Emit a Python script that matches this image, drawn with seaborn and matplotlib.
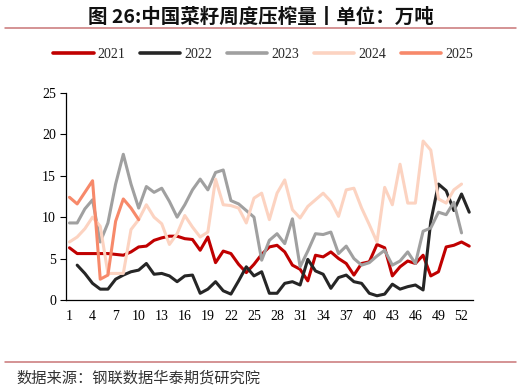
import numpy as np
import pandas as pd
import matplotlib
matplotlib.use('Agg')
import matplotlib.pyplot as plt
import seaborn as sns
from matplotlib.lines import Line2D

# ------------------------------------------------------------
# 数据：中国菜籽周度压榨量（万吨），按周 1-53
# ------------------------------------------------------------
WEEKS = list(range(1, 54))

Y2021 = [6.3, 5.6, 5.6, 5.6, 5.6, 5.6, 5.5, 5.4, 5.8, 6.4,
         6.5, 7.2, 7.5, 7.7, 7.7, 7.4, 7.3, 6.0, 7.6, 4.5,
         5.9, 5.6, 4.3, 3.3, 4.3, 5.5, 6.4, 6.6, 5.8, 4.2,
         3.7, 2.3, 5.4, 5.2, 5.8, 5.0, 4.4, 3.0, 4.4, 4.6,
         6.7, 6.3, 2.9, 4.0, 4.7, 4.4, 5.4, 2.9, 3.4, 6.4,
         6.6, 7.0, 6.5]

Y2022 = [np.nan, 4.2, 3.2, 2.0, 1.3, 1.3, 2.5, 3.0, 3.4, 3.6,
         4.4, 3.1, 3.2, 2.9, 2.2, 2.9, 3.0, 0.8, 1.3, 2.2,
         1.1, 0.7, 2.3, 4.0, 2.9, 3.4, 0.8, 0.8, 2.0, 2.2,
         1.8, 4.9, 3.5, 3.1, 1.4, 2.7, 3.0, 2.2, 2.0, 0.8,
         0.5, 0.7, 1.9, 1.3, 1.6, 1.8, 1.2, 9.5, 14.0, 13.2,
         10.8, 12.8, 10.6]

Y2023 = [9.3, 9.3, 11.0, 12.1, 7.0, 9.3, 14.0, 17.6, 14.0, 11.1,
         13.7, 13.0, 13.5, 11.9, 10.0, 11.5, 13.3, 14.6, 13.3, 15.4,
         15.7, 12.0, 11.6, 10.8, 10.0, 4.8, 7.2, 8.0, 6.8, 9.8,
         4.0, 5.9, 8.0, 7.9, 8.2, 5.6, 6.5, 5.0, 4.2, 4.5,
         5.3, 6.0, 4.2, 4.7, 5.8, 4.4, 8.3, 8.7, 10.6, 10.3,
         11.8, 8.1, np.nan]

Y2024 = [7.0, 7.6, 8.6, 10.0, 8.9, 3.2, 3.2, 3.2, 8.5, 9.7,
         11.5, 10.0, 9.2, 6.7, 8.0, 10.2, 8.8, 7.6, 8.2, 14.6,
         11.5, 11.4, 11.1, 9.3, 12.3, 12.9, 9.7, 12.9, 14.5, 10.9,
         9.9, 11.3, 12.1, 12.9, 11.9, 10.1, 13.3, 13.5, 11.1, 9.1,
         7.0, 13.6, 11.5, 16.4, 11.7, 11.7, 19.2, 18.1, 12.2, 11.7,
         13.3, 14.0, np.nan]

Y2025 = [12.4, 11.6, 13.0, 14.4, 2.5, 3.0, 9.5, 12.2, 11.1, 9.7]

YEARS = ['2021', '2022', '2023', '2024', '2025']
COLORS = {'2021': '#C00000', '2022': '#262626', '2023': '#A0A0A0',
          '2024': '#FCD3C1', '2025': '#F7896A'}

series = {'2021': Y2021, '2022': Y2022, '2023': Y2023, '2024': Y2024, '2025': Y2025}
frames = []
for yr in YEARS:
    vals = series[yr]
    frames.append(pd.DataFrame({'week': WEEKS[:len(vals)], 'value': vals, 'year': yr}))
df = pd.concat(frames, ignore_index=True).dropna()

# ------------------------------------------------------------
# 图
# ------------------------------------------------------------
sns.set_theme(style='white')
plt.rcParams['font.family'] = ['Liberation Serif', 'Noto Sans CJK SC']
plt.rcParams['axes.unicode_minus'] = False

fig = plt.figure(figsize=(5.21, 3.91), dpi=100)
ax = fig.add_axes([0.126, 0.233, 0.782, 0.529])

sns.lineplot(data=df, x='week', y='value', hue='year', hue_order=YEARS,
             palette=COLORS, linewidth=2.2, ax=ax, legend=False)

ax.set_xlim(0.5, 53.5)
ax.set_ylim(0, 25)
ax.set_xticks(list(range(1, 53, 3)))
ax.set_xticks([0.5 + 3 * i for i in range(18)], minor=True)
ax.tick_params(axis='x', which='major', length=0, pad=7, labelsize=10, colors='#000000')
ax.tick_params(axis='x', which='minor', length=4, width=0.8, direction='out', color='#000000')
ax.set_yticks([0, 5, 10, 15, 20, 25])
ax.tick_params(axis='y', length=4, width=0.8, direction='out', labelsize=10, pad=3,
               colors='#000000', left=True)
ax.set_xlabel('')
ax.set_ylabel('')
for s in ['top', 'right']:
    ax.spines[s].set_visible(False)
for s in ['left', 'bottom']:
    ax.spines[s].set_color('#000000')
    ax.spines[s].set_linewidth(0.9)

handles = [Line2D([0], [0], color=COLORS[y], lw=2.6) for y in YEARS]
fig.legend(handles, YEARS, loc='center', bbox_to_anchor=(0.505, 0.86), ncol=5,
           frameon=False, fontsize=10, handlelength=2.9, handletextpad=0.3,
           columnspacing=1.05)

# 标题与来源
fig.text(0.5, 0.957, '图 26:中国菜籽周度压榨量丨单位：万吨', ha='center', va='center',
         fontsize=14, fontweight='bold', family=['Noto Sans CJK SC'], color='#111111')
fig.add_artist(Line2D([0.01, 0.99], [0.928, 0.928], color='#C97577', lw=1.1))
fig.add_artist(Line2D([0.01, 0.99], [0.074, 0.074], color='#C97577', lw=1.1))
fig.text(0.031, 0.033, '数据来源：钢联数据华泰期货研究院', ha='left', va='center',
         fontsize=11, family=['Noto Sans CJK SC'], color='#333333')

fig.savefig('out.png', dpi=100)
